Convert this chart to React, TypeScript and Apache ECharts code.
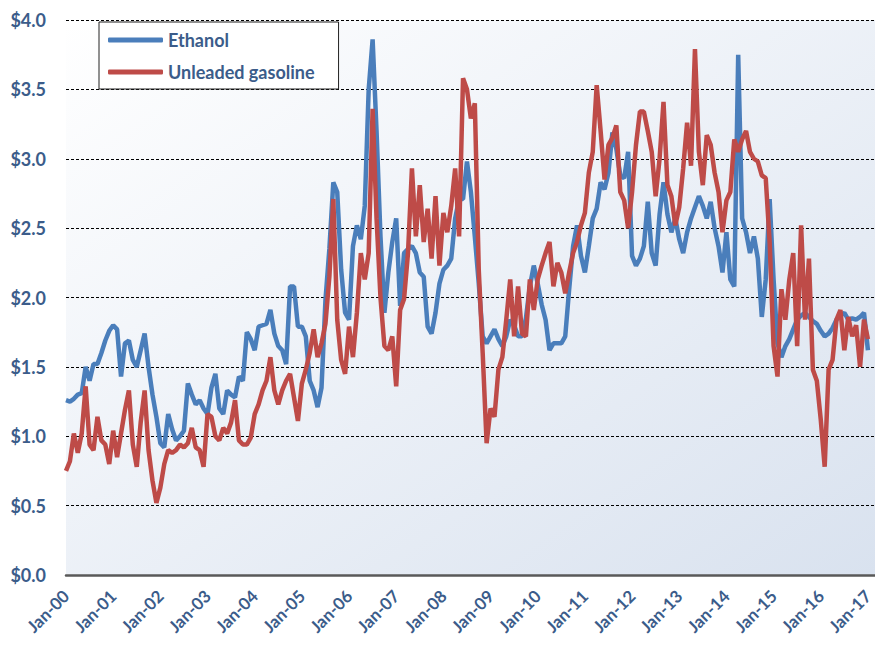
import React, { useEffect, useRef } from "react";
import * as echarts from "echarts";

const tickLabels = ["Jan-00","Jan-01","Jan-02","Jan-03","Jan-04","Jan-05","Jan-06","Jan-07","Jan-08","Jan-09","Jan-10","Jan-11","Jan-12","Jan-13","Jan-14","Jan-15","Jan-16","Jan-17"];

// monthly values, index = months since Jan-00
const ethanol = [
  1.26,1.25,1.27,1.30,1.31,1.50,1.40,1.52,1.52,1.60,1.69,1.76,
  1.80,1.77,1.43,1.67,1.69,1.55,1.50,1.62,1.74,1.50,1.30,1.14,
  0.95,0.92,1.16,1.05,0.97,1.00,1.04,1.38,1.30,1.23,1.26,1.20,
  1.16,1.35,1.45,1.20,1.16,1.33,1.30,1.28,1.43,1.40,1.75,1.70,
  1.62,1.79,1.80,1.81,1.91,1.74,1.65,1.62,1.52,2.08,2.08,1.79,
  1.79,1.72,1.40,1.33,1.21,1.35,1.98,2.35,2.83,2.76,2.20,1.89,
  1.84,2.37,2.52,2.42,2.66,3.50,3.86,3.20,2.44,1.89,2.18,2.40,
  2.57,1.94,2.32,2.35,2.37,2.32,2.18,2.15,1.79,1.74,1.89,2.10,
  2.20,2.23,2.28,2.57,2.71,2.71,2.98,2.76,2.44,2.10,1.72,1.67,
  1.72,1.77,1.70,1.65,1.72,1.84,1.80,1.72,1.72,1.85,2.08,2.23,
  2.10,1.95,1.84,1.62,1.67,1.67,1.67,1.72,2.06,2.37,2.52,2.30,
  2.18,2.37,2.57,2.64,2.83,2.78,2.90,3.19,3.07,2.88,2.86,3.05,
  2.30,2.23,2.28,2.37,2.69,2.32,2.23,2.60,2.83,2.60,2.47,2.57,
  2.42,2.32,2.47,2.57,2.65,2.73,2.66,2.57,2.69,2.50,2.37,2.18,
  2.47,2.13,2.08,3.75,2.57,2.47,2.32,2.44,2.28,1.86,2.13,2.71,
  2.13,1.67,1.57,1.65,1.70,1.77,1.84,1.87,1.89,1.86,1.83,1.81,
  1.76,1.72,1.74,1.78,1.84,1.87,1.89,1.84,1.85,1.84,1.86,1.89,
  1.62
];

const gasoline = [
  0.75,0.82,1.02,0.88,1.02,1.36,0.94,0.90,1.14,0.97,0.94,0.80,
  1.04,0.85,1.02,1.19,1.33,0.94,0.78,1.10,1.33,0.90,0.68,0.52,
  0.63,0.80,0.90,0.88,0.90,0.94,0.92,0.95,1.06,0.92,0.90,0.78,
  1.16,1.14,1.00,0.97,1.06,1.02,1.10,1.26,0.97,0.94,0.94,0.99,
  1.16,1.23,1.33,1.40,1.57,1.33,1.23,1.33,1.40,1.45,1.28,1.11,
  1.38,1.48,1.60,1.77,1.57,1.67,1.81,2.15,2.71,1.84,1.55,1.45,
  1.79,1.57,1.89,2.32,2.13,2.32,3.36,2.57,2.00,1.65,1.62,1.72,
  1.36,1.91,1.99,2.32,2.93,2.44,2.81,2.40,2.64,2.28,2.73,2.23,
  2.61,2.47,2.66,2.93,2.44,3.58,3.50,3.29,3.40,2.20,1.60,0.95,
  1.20,1.14,1.48,1.57,1.84,2.13,1.72,2.08,1.74,1.72,2.13,1.91,
  2.13,2.23,2.32,2.40,2.08,2.25,2.18,2.03,2.18,2.32,2.40,2.52,
  2.61,2.90,3.05,3.53,3.20,2.85,3.10,3.15,3.24,2.76,2.70,2.50,
  2.76,3.10,3.34,3.34,3.20,3.05,2.73,3.00,3.41,2.81,2.73,2.52,
  2.65,2.93,3.26,2.95,3.79,3.05,2.81,3.17,3.10,2.90,2.76,2.47,
  2.70,2.76,3.14,3.05,3.14,3.20,3.05,3.00,2.98,2.88,2.86,2.40,
  1.65,1.43,2.06,1.84,2.13,2.32,1.65,2.52,1.84,2.28,1.48,1.40,
  1.12,0.78,1.48,1.55,1.84,1.91,1.62,1.86,1.72,1.80,1.50,1.84,
  1.70
];

const seriesNames = ["Ethanol", "Unleaded gasoline"];
const textColor = "#3B5C8A";
const fontFamily = "Lato, 'Noto Sans', sans-serif";

export default function App() {
  const ref = useRef<HTMLDivElement>(null);
  useEffect(() => {
    if (!ref.current) return;
    const chart = echarts.init(ref.current, null, { renderer: "svg" });
    chart.setOption({
      animation: false,
      grid: {
        left: 66, right: 0, top: 20, bottom: 71,
        outerBoundsMode: "none",
        containLabel: false,
        show: true,
        borderWidth: 0,
        backgroundColor: new echarts.graphic.LinearGradient(0, 0, 1, 1, [
          { offset: 0, color: "#FFFFFF" },
          { offset: 1, color: "#D9E2EF" },
        ]),
      },
      legend: {
        data: seriesNames,
        orient: "vertical",
        left: 99,
        top: 22,
        backgroundColor: "#FFFFFF",
        borderColor: "#222",
        borderWidth: 1,
        padding: [9, 24, 8, 9],
        itemGap: 14,
        itemWidth: 55,
        itemHeight: 5,
        icon: "roundRect",
        textStyle: { color: textColor, fontSize: 18, fontWeight: "bold", fontFamily },
      },
      xAxis: {
        type: "value",
        min: 0,
        max: 205.8,
        interval: 12,
        axisLine: { show: true, lineStyle: { color: "#595959", width: 2.5 } },
        axisTick: { show: false },
        splitLine: { show: false },
        axisLabel: {
          rotate: 45,
          margin: 18,
          color: textColor,
          fontSize: 17,
          fontWeight: "bold",
          fontFamily,
          showMaxLabel: false,
          formatter: (v: number) => tickLabels[Math.round(v / 12)] ?? "",
        },
      },
      yAxis: {
        type: "value",
        min: 0,
        max: 4,
        interval: 0.5,
        axisLine: { show: false },
        axisTick: { show: false },
        splitLine: { show: true, lineStyle: { color: "#000", type: [3, 2], width: 1 } },
        axisLabel: {
          margin: 20,
          color: textColor,
          fontSize: 18,
          fontWeight: "bold",
          fontFamily,
          formatter: (v: number) => "$" + v.toFixed(1),
        },
      },
      series: [
        {
          name: seriesNames[0],
          type: "line",
          data: ethanol.map((v, i) => [i, v]),
          showSymbol: false,
          color: "#4A7EBB",
          lineStyle: { width: 4.5, color: "#4A7EBB" },
        },
        {
          name: seriesNames[1],
          type: "line",
          data: gasoline.map((v, i) => [i, v]),
          showSymbol: false,
          color: "#BE4B48",
          lineStyle: { width: 4.5, color: "#BE4B48" },
        },
      ],
    });
    return () => chart.dispose();
  }, []);
  return <div ref={ref} style={{ width: 875, height: 646, position: "absolute", left: 0, top: 0 }} />;
}
